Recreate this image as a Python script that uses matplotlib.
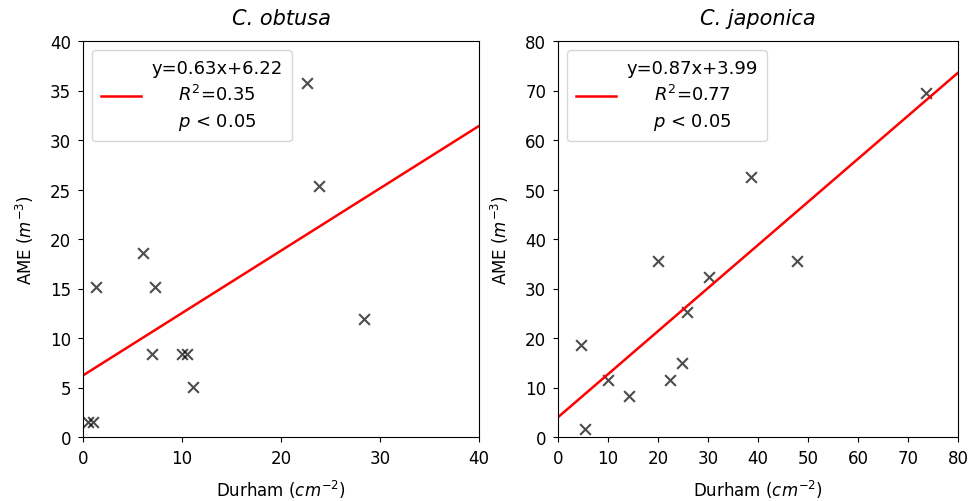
import numpy as np
import matplotlib.pyplot as plt

# C. obtusa
x_obt = [22.6, 23.8, 6.1, 1.3, 7.3, 28.4, 7.0, 10.0, 10.5, 11.1, 0.5, 1.0]
y_obt = [35.8, 25.4, 18.6, 15.2, 15.2, 11.9, 8.4, 8.4, 8.4, 5.1, 1.5, 1.5]
fit_obt = (0.63, 6.22)
lab_obt = 'y=0.63x+6.22\n$R^2$=0.35\n$p$ < 0.05'

# C. japonica
x_jap = [73.6, 38.6, 19.9, 47.7, 30.1, 25.7, 4.6, 24.7, 9.9, 22.4, 14.1, 5.3]
y_jap = [69.5, 52.5, 35.5, 35.5, 32.3, 25.2, 18.6, 14.9, 11.6, 11.6, 8.2, 1.6]
fit_jap = (0.87, 3.99)
lab_jap = 'y=0.87x+3.99\n$R^2$=0.77\n$p$ < 0.05'

fig = plt.figure(figsize=(9.72, 5.02), dpi=100)
ax1 = fig.add_axes([83/972, 64/502, 396/972, 396/502])
ax2 = fig.add_axes([558/972, 64/502, 400/972, 396/502])

def panel(ax, x, y, fit, lab, lim, title):
    xx = np.array([0, lim])
    ax.plot(xx, fit[0]*xx + fit[1], color='red', lw=1.8, label=lab)
    ax.scatter(x, y, marker='x', color='black', alpha=0.7, s=60, lw=1.5)
    ax.set_xlim(0, lim)
    ax.set_ylim(0, lim)
    ax.set_title(title, fontstyle='italic', fontsize=15, pad=12)
    ax.set_xlabel('Durham ($cm^{-2}$)', fontsize=12, labelpad=8)
    ax.set_ylabel('AME ($m^{-3}$)', fontsize=12, labelpad=10)
    ax.tick_params(labelsize=12, pad=5)
    leg = ax.legend(loc='upper left', fontsize=13, handlelength=2.2,
                    handletextpad=0.6, borderpad=0.5)
    for t in leg.get_texts():
        t.set_multialignment('center')
        t.set_linespacing(1.45)

panel(ax1, x_obt, y_obt, fit_obt, lab_obt, 40, 'C. obtusa')
panel(ax2, x_jap, y_jap, fit_jap, lab_jap, 80, 'C. japonica')

plt.savefig('out.png', dpi=100)
